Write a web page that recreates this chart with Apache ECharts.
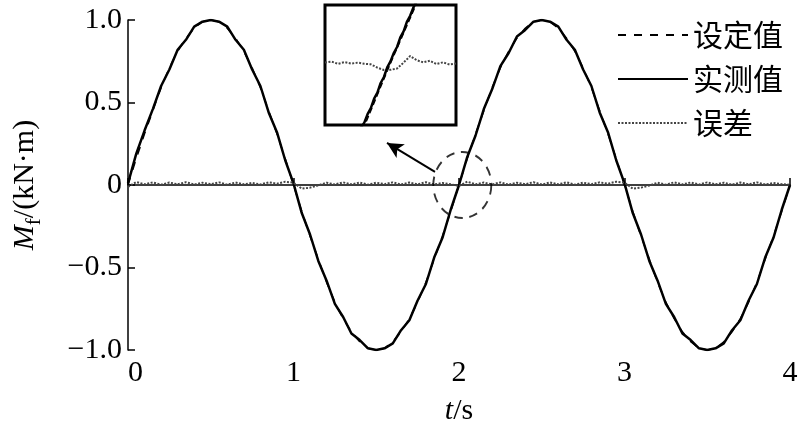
<!DOCTYPE html>
<html><head><meta charset="utf-8">
<script src="https://cdn.jsdelivr.net/npm/echarts@6/dist/echarts.min.js"></script>
<style>html,body{margin:0;padding:0;background:#fff}#c{width:800px;height:435px}</style>
</head><body><div id="c"></div>
<script>
// ---- data ----
const timeS = [0,0.05,0.1,0.15,0.2,0.25,0.3,0.35,0.4,0.45,0.5,0.55,0.6,0.65,0.7,0.75,0.8,0.85,0.9,0.95,
  1,1.05,1.1,1.15,1.2,1.25,1.3,1.35,1.4,1.45,1.5,1.55,1.6,1.65,1.7,1.75,1.8,1.85,1.9,1.95,
  2,2.05,2.1,2.15,2.2,2.25,2.3,2.35,2.4,2.45,2.5,2.55,2.6,2.65,2.7,2.75,2.8,2.85,2.9,2.95,
  3,3.05,3.1,3.15,3.2,3.25,3.3,3.35,3.4,3.45,3.5,3.55,3.6,3.65,3.7,3.75,3.8,3.85,3.9,3.95,4];
const setVals = [0,0.16,0.31,0.45,0.59,0.71,0.81,0.89,0.95,0.99,1.00,0.99,0.95,0.89,0.81,0.71,0.59,0.45,0.31,0.16,
  0,-0.16,-0.31,-0.45,-0.59,-0.71,-0.81,-0.89,-0.95,-0.99,-1.00,-0.99,-0.95,-0.89,-0.81,-0.71,-0.59,-0.45,-0.31,-0.16,
  0,0.16,0.31,0.45,0.59,0.71,0.81,0.89,0.95,0.99,1.00,0.99,0.95,0.89,0.81,0.71,0.59,0.45,0.31,0.16,
  0,-0.16,-0.31,-0.45,-0.59,-0.71,-0.81,-0.89,-0.95,-0.99,-1.00,-0.99,-0.95,-0.89,-0.81,-0.71,-0.59,-0.45,-0.31,-0.16,0];
const measVals = [0.01,0.19,0.33,0.46,0.60,0.70,0.82,0.88,0.96,0.99,1.00,0.99,0.96,0.88,0.82,0.70,0.60,0.44,0.32,0.15,
  0.01,-0.17,-0.30,-0.46,-0.58,-0.72,-0.80,-0.90,-0.94,-0.99,-1.00,-0.99,-0.96,-0.88,-0.82,-0.70,-0.60,-0.44,-0.32,-0.15,
  0.00,0.17,0.30,0.46,0.58,0.72,0.80,0.90,0.94,0.99,1.00,0.99,0.96,0.88,0.82,0.70,0.60,0.44,0.32,0.15,
  0.01,-0.17,-0.30,-0.46,-0.58,-0.72,-0.80,-0.90,-0.94,-0.99,-1.00,-0.99,-0.96,-0.88,-0.82,-0.70,-0.60,-0.44,-0.32,-0.15,0.00];
const errVals = [-0.012,0.018,0.004,0.016,0.002,0.015,0.004,0.017,0.003,0.014,0.005,0.016,0.002,0.015,0.004,0.013,0.003,0.016,0.008,0.020,
  0.014,-0.022,-0.016,-0.002,0.014,0.003,0.016,0.004,0.015,0.002,0.014,0.005,0.016,0.003,0.015,0.004,0.017,0.003,0.012,0.004,
  -0.006,0.020,0.004,0.015,0.003,0.016,0.002,0.014,0.005,0.017,0.003,0.015,0.004,0.016,0.002,0.014,0.005,0.016,0.008,0.020,
  0.014,-0.022,-0.016,-0.003,0.014,0.002,0.016,0.004,0.015,0.003,0.016,0.004,0.014,0.002,0.015,0.004,0.016,0.003,0.012,0.005,0.002];
const seriesNames = ['设定值','实测值','误差'];
const xTickVals = [0,1,2,3,4];
const xTickLabels = ['0','1','2','3','4'];
const yTickVals = [-1,-0.5,0,0.5,1];
const yTickLabels = ['\u22121.0','\u22120.5','0','0.5','1.0'];
// callout circle (data coords) and arrow
const calloutT = [2.02], calloutM = [0];
const arrowFrom = [1.855, 0.079], arrowTo = [1.565, 0.255];
// inset (zoom of crossing at t = 2)
const insetT = [1.960,1.964,1.968,1.972,1.976,1.980,1.984,1.988,1.992,1.996,2.000,2.004,2.008,2.012,2.016,2.020,2.024,2.028,2.032,2.036,2.040];
const insetErr = [0.0020,0.0028,0.0010,0.0024,0.0012,0.0020,0.0010,0.0006,-0.0022,-0.0042,-0.0040,-0.0030,0.0020,0.0075,0.0040,0.0022,0.0036,0.0008,0.0022,0.0004,0.0012];
const insetMeasT = [1.980,1.982,1.984,1.986,1.988,1.990,1.992,1.994,1.996,1.998,2.000,2.002,2.004,2.006,2.008,2.010,2.012,2.014,2.016,2.018];
const insetMeas = [-0.061,-0.052,-0.048,-0.041,-0.036,-0.028,-0.023,-0.015,-0.010,-0.002,0.003,0.010,0.015,0.023,0.028,0.036,0.041,0.048,0.053,0.061];
const insetSetT = [1.981,1.9995,2.019];
const insetSet = [-0.061,0,0.061];

// ---- chart ----
const pair = (xs, ys) => xs.map((x, i) => [x, ys[i]]);
const serif = '"Liberation Serif","Times New Roman",Times,serif';
const chart = echarts.init(document.getElementById('c'));
chart.setOption({
  animation: false,
  backgroundColor: '#fff',
  textStyle: {fontFamily: serif, color: '#000'},
  grid: [
    {left: 128, right: 10, top: 20, bottom: 85, containLabel: false, outerBoundsMode: 'none'},
    {left: 325, top: 5, width: 131, height: 120, show: true, borderColor: '#000', borderWidth: 3, backgroundColor: '#fff', z: 5,
     containLabel: false, outerBoundsMode: 'none'}
  ],
  legend: {
    data: seriesNames, orient: 'vertical', left: 612, top: 15,
    itemWidth: 70, itemHeight: 14, itemGap: 14,
    itemStyle: {color: 'rgba(0,0,0,0)', borderColor: 'rgba(0,0,0,0)', borderWidth: 0},
    textStyle: {fontSize: 30, fontFamily: '"Noto Sans CJK SC"', color: '#000', lineHeight: 30}
  },
  xAxis: [
    {type: 'value', gridIndex: 0, min: 0, max: 4, interval: 1,
     axisLine: {lineStyle: {color: '#000', width: 1.5}},
     axisTick: {inside: true, length: 7, lineStyle: {color: '#000', width: 1.5}},
     axisLabel: {fontSize: 30, color: '#000', fontFamily: serif, margin: 8, alignMinLabel: 'left',
       formatter: v => xTickLabels[xTickVals.indexOf(v)]},
     splitLine: {show: false},
     name: '{i|t}/s', nameLocation: 'middle', nameGap: 46,
     nameTextStyle: {fontSize: 30, color: '#000', fontFamily: serif,
       rich: {i: {fontStyle: 'italic', fontSize: 30, fontFamily: serif, color: '#000'}}}},
    {type: 'value', gridIndex: 1, min: 1.96, max: 2.04, show: false}
  ],
  yAxis: [
    {type: 'value', gridIndex: 0, min: -1, max: 1, interval: 0.5,
     axisLine: {show: true, lineStyle: {color: '#000', width: 1.5}},
     axisTick: {show: true, inside: true, length: 7, lineStyle: {color: '#000', width: 1.5}},
     axisLabel: {fontSize: 30, color: '#000', fontFamily: serif, margin: 6,
       formatter: v => yTickLabels[yTickVals.indexOf(v)]},
     splitLine: {show: false},
     name: '{i|M}{s|f}{n|/(kN·m)}', nameLocation: 'middle', nameRotate: 90, nameGap: 83,
     nameTextStyle: {fontSize: 30, color: '#000', fontFamily: serif, lineHeight: 40,
       rich: {i: {fontStyle: 'italic', fontSize: 30, fontFamily: serif, color: '#000', lineHeight: 40},
              s: {fontSize: 21, fontFamily: serif, color: '#000', lineHeight: 22, verticalAlign: 'bottom'},
              n: {fontSize: 30, fontFamily: serif, color: '#000', lineHeight: 40}}}},
    {type: 'value', gridIndex: 1, min: -0.05, max: 0.05, show: false}
  ],
  series: [
    {name: seriesNames[0], type: 'line', data: pair(timeS, setVals), symbol: 'none', z: 2,
     lineStyle: {color: '#000', width: 1.5, type: [8, 8]}},
    {name: seriesNames[1], type: 'line', data: pair(timeS, measVals), symbol: 'none', z: 3,
     lineStyle: {color: '#000', width: 2.5}},
    {name: seriesNames[2], type: 'line', data: pair(timeS, errVals), symbol: 'none', z: 4,
     lineStyle: {color: '#444', width: 2, type: [2, 1.5]}},
    {name: 'callout', type: 'scatter', data: pair(calloutT, calloutM), symbol: 'circle', symbolSize: [58, 66],
     silent: true, z: 6,
     itemStyle: {color: 'rgba(0,0,0,0)', borderColor: '#000', borderWidth: 2, borderType: [9, 7]},
     markLine: {silent: true, symbol: ['none', 'arrow'], symbolSize: [12, 16], label: {show: false},
       lineStyle: {color: '#000', width: 2, type: 'solid'},
       data: [[{coord: arrowFrom}, {coord: arrowTo}]]}},
    {name: 'inset-set', type: 'line', xAxisIndex: 1, yAxisIndex: 1, data: pair(insetSetT, insetSet), symbol: 'none', z: 7,
     lineStyle: {color: '#000', width: 1.5, type: [6, 3]}},
    {name: 'inset-meas', type: 'line', xAxisIndex: 1, yAxisIndex: 1, data: pair(insetMeasT, insetMeas), symbol: 'none', z: 8,
     lineStyle: {color: '#000', width: 2.5}},
    {name: 'inset-err', type: 'line', xAxisIndex: 1, yAxisIndex: 1, data: pair(insetT, insetErr), symbol: 'none', z: 7,
     lineStyle: {color: '#444', width: 2, type: [2, 1.5]}}
  ]
});
</script></body></html>
